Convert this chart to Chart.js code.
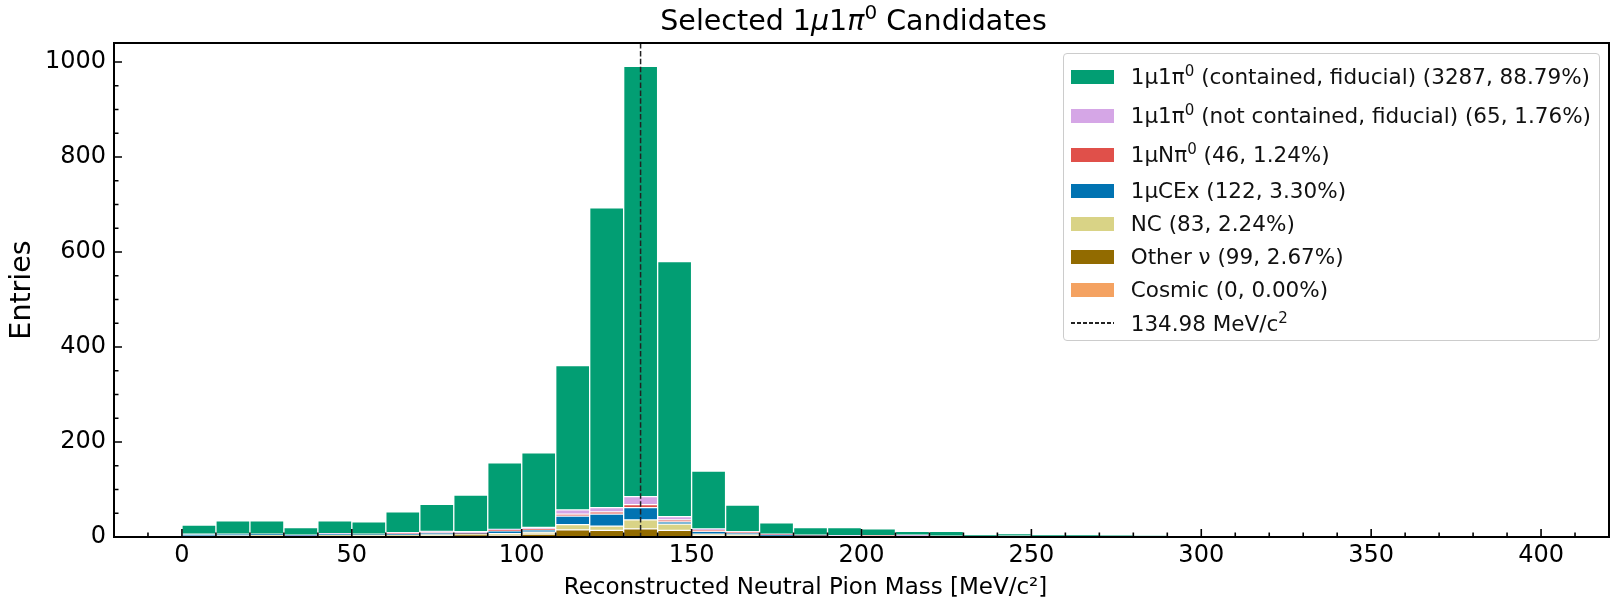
<!DOCTYPE html>
<html>
<head>
<meta charset="utf-8">
<title>Selected 1μ1π0 Candidates</title>
<script src="https://cdn.jsdelivr.net/npm/chart.js@4.4.0/dist/chart.umd.min.js"></script>
<style>
  html, body { margin: 0; padding: 0; background: #fff; }
  #wrap { position: relative; width: 1611px; height: 604px; }
  #legend {
    position: absolute;
    font-family: "DejaVu Sans", sans-serif;
    font-size: 21.5px;
    color: #111;
    background: rgba(255, 255, 255, 0.8);
    border: 1px solid #ccc;
    border-radius: 4px;
    padding: 3px 8px 0 7px;
  }
  #legend .row { display: flex; align-items: center; height: 33px; white-space: nowrap; }
  #legend .row.tall { height: 39px; }
  #legend .row.last { height: 34px; }
  #legend .swatch { width: 43px; height: 14px; margin-right: 17px; flex: none; }
  #legend .dash {
    width: 43px; height: 1.4px; margin-right: 17px; flex: none;
    background: repeating-linear-gradient(to right, #222 0 4px, transparent 4px 6px);
  }
  #legend sup { font-size: 0.7em; vertical-align: 0.5em; line-height: 0; }
</style>
</head>
<body>
<div id="wrap">
  <canvas id="chart1" width="1611" height="604"></canvas>
  <div id="legend"></div>
</div>
<script>
// 10 MeV bins, lower edges
const binLow = [0, 10, 20, 30, 40, 50, 60, 70, 80, 90,
                100, 110, 120, 130, 140, 150, 160, 170, 180, 190,
                200, 210, 220, 230, 240, 250, 260, 270, 280, 290,
                300, 310, 320, 330, 340, 350, 360, 370, 380, 390];

// entries per bin for each event category
const contained    = [19, 28, 28, 16, 27, 26, 44, 57, 77, 140, 157, 304, 631, 906, 537, 122, 56, 24, 16, 17, 14, 8, 10, 2, 5, 3, 2, 3, 2, 0, 1, 0, 1, 2, 2, 0, 0, 0, 0, 0];
const notContained = [0, 0, 0, 1, 1, 0, 2, 3, 3, 2, 3, 9, 9, 17, 7, 3, 1, 1, 0, 1, 0, 2, 0, 0, 0, 0, 0, 0, 0, 0, 0, 0, 0, 0, 0, 0, 0, 0, 0, 0];
const multiPi0     = [0, 0, 0, 0, 0, 0, 1, 1, 1, 1, 2, 4, 5, 6, 4, 2, 2, 1, 1, 1, 1, 1, 1, 1, 1, 1, 1, 1, 1, 1, 1, 0, 1, 0, 0, 0, 2, 0, 0, 0];
const cex          = [4, 3, 2, 1, 1, 1, 1, 3, 1, 6, 5, 18, 25, 26, 5, 6, 3, 2, 1, 1, 1, 1, 1, 1, 1, 1, 1, 0, 0, 0, 0, 0, 0, 0, 0, 0, 0, 0, 0, 0];
const nc           = [1, 2, 1, 1, 3, 2, 3, 2, 1, 3, 4, 11, 9, 19, 13, 3, 2, 1, 1, 0, 1, 0, 0, 0, 0, 0, 0, 0, 0, 0, 0, 0, 0, 0, 0, 0, 0, 0, 0, 0];
const otherNu      = [1, 1, 3, 1, 2, 3, 2, 3, 5, 4, 6, 15, 14, 17, 14, 3, 3, 1, 1, 0, 0, 0, 0, 0, 0, 0, 0, 0, 0, 0, 0, 0, 0, 0, 0, 0, 0, 0, 0, 0];
const cosmic       = [0, 0, 0, 0, 0, 0, 0, 0, 0, 0, 0, 0, 0, 0, 0, 0, 0, 0, 0, 0, 0, 0, 0, 0, 0, 0, 0, 0, 0, 0, 0, 0, 0, 0, 0, 0, 0, 0, 0, 0];

const xTickValues = [0, 50, 100, 150, 200, 250, 300, 350, 400];
const yTickValues = [0, 200, 400, 600, 800, 1000];
const pi0Mass = 134.98;

const binWidth = 10;
const FONT = '"DejaVu Sans", sans-serif';

// bottom of the stack first; legend shows them in reverse
const categories = [
  { label: 'Cosmic', data: cosmic, color: '#f4a261', tall: false },
  { label: 'Other ν', data: otherNu, color: '#926b00', tall: false },
  { label: 'NC', data: nc, color: '#d9d386', tall: false },
  { label: '1μCEx', data: cex, color: '#0173b2', tall: false },
  { label: '1μNπ<sup>0</sup>', data: multiPi0, color: '#e0504a', tall: true },
  { label: '1μ1π<sup>0</sup> (not contained, fiducial)', data: notContained, color: '#d5a6e6', tall: true },
  { label: '1μ1π<sup>0</sup> (contained, fiducial)', data: contained, color: '#029e73', tall: true }
];

const sum = arr => arr.reduce((a, b) => a + b, 0);
const grandTotal = sum(categories.map(c => sum(c.data)));

const datasets = categories.map(c => ({
  label: c.label,
  data: c.data.map((v, i) => ({ x: binLow[i] + binWidth / 2, y: v })),
  backgroundColor: c.color,
  borderColor: 'rgba(255,255,255,0.3)',
  borderWidth: 1,
  borderSkipped: false,
  barPercentage: 1,
  categoryPercentage: 1
}));

// frame, inward ticks, pi0 mass line, title and x label
const axesDecor = {
  id: 'axesDecor',
  afterDatasetsDraw(chart) {
    const { ctx, chartArea: a, scales: { x, y } } = chart;
    ctx.save();

    // nominal pi0 mass
    const px = x.getPixelForValue(pi0Mass);
    ctx.strokeStyle = '#222';
    ctx.lineWidth = 1.5;
    ctx.setLineDash([5.5, 2.4]);
    ctx.beginPath();
    ctx.moveTo(px, a.top);
    ctx.lineTo(px, a.bottom);
    ctx.stroke();
    ctx.setLineDash([]);

    // ticks pointing into the plot
    ctx.strokeStyle = '#000';
    ctx.lineWidth = 1.6;
    ctx.beginPath();
    for (let v = x.min; v <= x.max; v += 10) {
      const p = x.getPixelForValue(v);
      const len = v % 50 === 0 ? 8 : 4.5;
      ctx.moveTo(p, a.bottom);
      ctx.lineTo(p, a.bottom - len);
    }
    for (let v = 0; v <= y.max; v += 50) {
      const p = y.getPixelForValue(v);
      const len = v % 200 === 0 ? 8 : 4.5;
      ctx.moveTo(a.left, p);
      ctx.lineTo(a.left + len, p);
    }
    ctx.stroke();

    ctx.lineWidth = 2;
    ctx.strokeRect(a.left, a.top, a.right - a.left, a.bottom - a.top);

    ctx.fillStyle = '#000';
    ctx.textAlign = 'left';

    // title with italic greek letters
    const parts = [
      { t: 'Selected 1', f: '28.5px ' + FONT, dy: 0 },
      { t: 'μ', f: 'italic 28.5px ' + FONT, dy: 0 },
      { t: '1', f: '28.5px ' + FONT, dy: 0 },
      { t: 'π', f: 'italic 28.5px ' + FONT, dy: 0 },
      { t: '0', f: '20px ' + FONT, dy: -11 },
      { t: ' Candidates', f: '28.5px ' + FONT, dy: 0 }
    ];
    let w = 0;
    parts.forEach(p => { ctx.font = p.f; p.w = ctx.measureText(p.t).width; w += p.w; });
    let cx = (a.left + a.right) / 2 - w / 2 - 8;
    ctx.textBaseline = 'alphabetic';
    parts.forEach(p => { ctx.font = p.f; ctx.fillText(p.t, cx, 30 + p.dy); cx += p.w; });

    // x label, centred on the figure
    ctx.font = '23px ' + FONT;
    ctx.textAlign = 'center';
    ctx.textBaseline = 'middle';
    ctx.fillText('Reconstructed Neutral Pion Mass [MeV/c²]', chart.width / 2, 588.5);
    ctx.restore();
  }
};

const chart = new Chart(document.getElementById('chart1'), {
  type: 'bar',
  data: { datasets: datasets },
  options: {
    responsive: false,
    animation: false,
    devicePixelRatio: 1,
    layout: { padding: { left: 0, right: 2, top: 43, bottom: 0 } },
    plugins: { legend: { display: false }, tooltip: { enabled: false } },
    scales: {
      x: {
        type: 'linear',
        stacked: true,
        min: -20,
        max: 420,
        offset: false,
        grid: { display: false, drawTicks: false },
        border: { display: false },
        afterBuildTicks: s => { s.ticks = xTickValues.map(v => ({ value: v })); },
        afterFit: s => { s.height = 67; },
        ticks: { color: '#000', padding: 4, maxRotation: 0, font: { family: FONT, size: 24 }, callback: v => String(v) }
      },
      y: {
        stacked: true,
        min: 0,
        max: 1040,
        grid: { display: false, drawTicks: false },
        border: { display: false },
        afterBuildTicks: s => { s.ticks = yTickValues.map(v => ({ value: v })); },
        afterFit: s => { s.width = 114; },
        ticks: { color: '#000', padding: 8, font: { family: FONT, size: 24 }, callback: v => String(v) },
        title: {
          display: true,
          text: 'Entries',
          color: '#000',
          font: { family: FONT, size: 28.5 },
          padding: { top: 5, bottom: 0 }
        }
      }
    }
  },
  plugins: [axesDecor]
});

// legend box in the upper right corner of the plot
function buildLegend(chart) {
  const box = document.getElementById('legend');
  const a = chart.chartArea;
  let html = '';
  categories.slice().reverse().forEach(c => {
    const n = sum(c.data);
    const pct = (100 * n / grandTotal).toFixed(2);
    html += '<div class="row' + (c.tall ? ' tall' : '') + '"><span class="swatch" style="background:' + c.color + '"></span>' +
            '<span>' + c.label + ' (' + n + ', ' + pct + '%)</span></div>';
  });
  html += '<div class="row last"><span class="dash"></span><span>' + pi0Mass + ' MeV/c<sup>2</sup></span></div>';
  box.innerHTML = html;
  box.style.right = (chart.width - (a.right - 9)) + 'px';
  box.style.top = (a.top + 10) + 'px';
}
buildLegend(chart);
</script>
</body>
</html>
